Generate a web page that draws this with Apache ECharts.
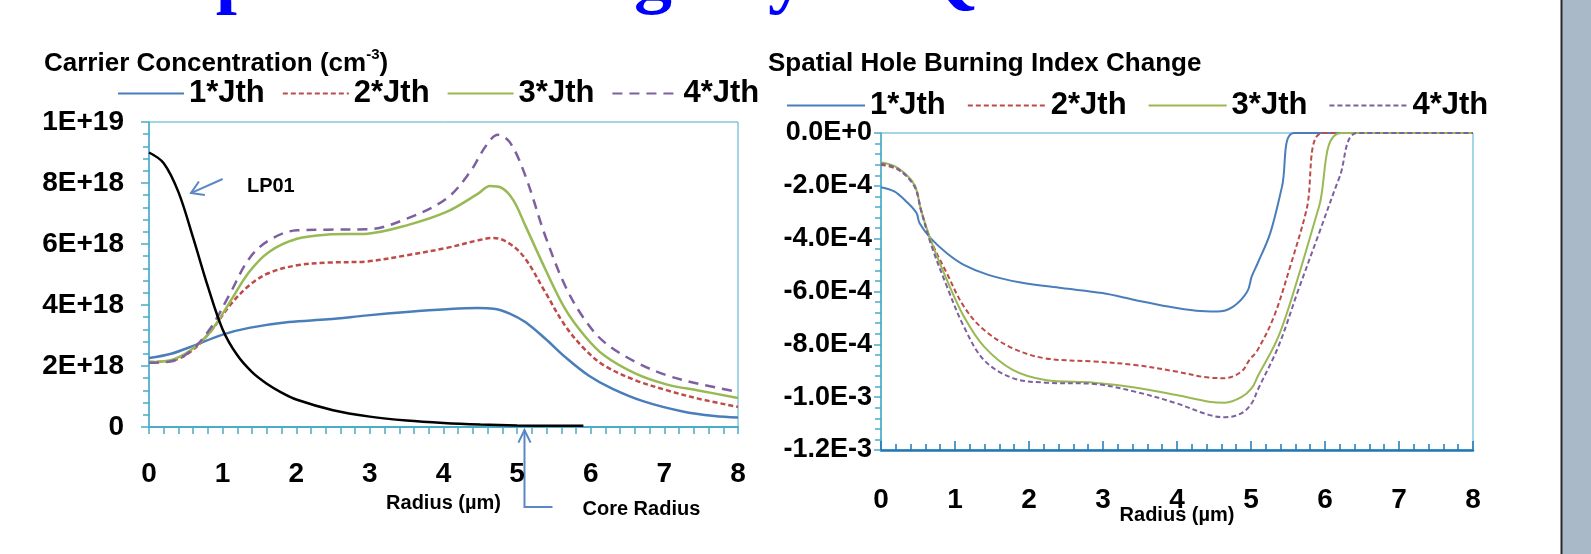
<!DOCTYPE html>
<html><head><meta charset="utf-8">
<script src="https://cdn.jsdelivr.net/npm/echarts@6/dist/echarts.min.js"></script>
<style>html,body{margin:0;padding:0;background:#fff}#c{width:1591px;height:554px}</style>
</head><body><div id="c"></div>
<script>
// ---------- data ----------
const seriesNames = ['1*Jth', '2*Jth', '3*Jth', '4*Jth'];
const radiusTickLabels = ['0', '1', '2', '3', '4', '5', '6', '7', '8'];
// left y axis in units of 1E18 cm^-3
const carrierTickLabels = ['0', '2E+18', '4E+18', '6E+18', '8E+18', '1E+19'];
// right y axis in units of 1E-4
const shbTickLabels = ['-1.2E-3', '-1.0E-3', '-8.0E-4', '-6.0E-4', '-4.0E-4', '-2.0E-4', '0.0E+0'];

// Carrier concentration [radius (µm), value (1E18 cm^-3)]
const carrier1Jth = [[0,2.26],[0.3,2.4],[0.6,2.66],[1.0,3.03],[1.36,3.25],[1.9,3.44],[2.43,3.53],[2.97,3.66],[3.5,3.77],[4.04,3.86],[4.47,3.9],[4.68,3.88],[4.9,3.72],[5.11,3.44],[5.38,2.9],[5.65,2.3],[5.97,1.69],[6.29,1.26],[6.72,0.84],[7.25,0.51],[7.68,0.36],[8.0,0.31]];
const carrier2Jth = [[0,2.13],[0.29,2.16],[0.56,2.46],[0.83,3.11],[1.1,3.99],[1.36,4.64],[1.63,5.05],[2.01,5.3],[2.43,5.39],[2.97,5.43],[3.5,5.63],[4.04,5.87],[4.47,6.12],[4.68,6.2],[4.9,6.01],[5.11,5.52],[5.38,4.43],[5.65,3.33],[5.91,2.57],[6.18,2.02],[6.61,1.53],[7.04,1.2],[7.46,0.93],[8.0,0.66]];
const carrier3Jth = [[0,2.13],[0.29,2.19],[0.56,2.51],[0.83,3.11],[1.1,4.1],[1.36,5.08],[1.63,5.74],[2.01,6.17],[2.43,6.31],[2.97,6.34],[3.5,6.61],[4.04,7.05],[4.47,7.65],[4.63,7.9],[4.79,7.84],[4.95,7.43],[5.11,6.61],[5.38,5.19],[5.65,3.88],[5.91,3.01],[6.18,2.35],[6.61,1.75],[7.04,1.39],[7.46,1.2],[8.0,0.95]];
const carrier4Jth = [[0,2.11],[0.29,2.15],[0.56,2.48],[0.83,3.22],[1.1,4.37],[1.36,5.52],[1.63,6.12],[2.01,6.45],[2.43,6.47],[2.97,6.48],[3.5,6.83],[4.04,7.49],[4.36,8.36],[4.58,9.23],[4.74,9.58],[4.9,9.34],[5.11,8.25],[5.38,6.28],[5.65,4.64],[5.91,3.55],[6.18,2.79],[6.61,2.13],[7.04,1.69],[7.46,1.42],[8.0,1.15]];
const lp01Mode = [[0,9.0],[0.2,8.65],[0.4,7.7],[0.6,6.2],[0.8,4.6],[1.0,3.2],[1.2,2.35],[1.4,1.8],[1.6,1.42],[1.8,1.13],[2.0,0.9],[2.5,0.55],[3.0,0.34],[3.5,0.21],[4.0,0.13],[4.5,0.08],[5.0,0.05],[5.5,0.04],[5.9,0.04]];

// Spatial hole burning index change [radius (µm), value (1E-4)]
const shb1Jth = [[0,-2.05],[0.18,-2.21],[0.34,-2.59],[0.48,-3.03],[0.52,-3.41],[0.67,-3.98],[0.89,-4.55],[1.12,-4.99],[1.45,-5.37],[1.89,-5.66],[2.44,-5.87],[2.99,-6.06],[3.43,-6.32],[3.88,-6.57],[4.26,-6.73],[4.54,-6.76],[4.76,-6.57],[4.95,-6.0],[5.01,-5.43],[5.09,-4.93],[5.26,-3.79],[5.42,-2.02],[5.58,0],[8,0]];
const shb2Jth = [[0,-1.2],[0.23,-1.39],[0.45,-1.96],[0.54,-2.91],[0.67,-4.04],[0.89,-5.31],[1.12,-6.57],[1.39,-7.45],[1.78,-8.15],[2.22,-8.53],[2.88,-8.65],[3.43,-8.78],[3.99,-9.03],[4.43,-9.26],[4.65,-9.28],[4.87,-9.03],[4.98,-8.59],[5.09,-8.21],[5.31,-6.95],[5.53,-5.05],[5.75,-2.91],[5.97,0],[8,0]];
const shb3Jth = [[0,-1.11],[0.23,-1.33],[0.45,-1.96],[0.54,-2.91],[0.67,-4.04],[0.89,-5.56],[1.12,-6.95],[1.39,-8.08],[1.78,-8.97],[2.22,-9.35],[2.88,-9.45],[3.43,-9.63],[3.99,-9.92],[4.43,-10.17],[4.65,-10.21],[4.87,-10.0],[5.01,-9.66],[5.09,-9.22],[5.37,-7.71],[5.64,-5.43],[5.92,-2.78],[6.22,0],[8,0]];
const shb4Jth = [[0,-1.16],[0.23,-1.36],[0.45,-2.02],[0.54,-2.91],[0.67,-4.17],[0.89,-5.81],[1.12,-7.33],[1.39,-8.59],[1.78,-9.28],[2.22,-9.45],[2.88,-9.5],[3.43,-9.79],[3.99,-10.23],[4.43,-10.67],[4.65,-10.76],[4.87,-10.61],[5.01,-10.23],[5.09,-9.73],[5.37,-8.08],[5.64,-5.94],[5.92,-3.79],[6.2,-1.64],[6.44,0],[8,0]];

// annotation anchors (data coords of left chart)
const lp01LabelAt = [1.33, 7.9];
const lp01ArrowFrom = [1.0, 8.13];
const lp01ArrowTo = [0.57, 7.67];
const coreRadiusAt = [5.1, 0];

// ---------- chart ----------
const FONT = "'Liberation Sans', Arial, sans-serif";
const C = ['#4a7ebb', '#be4b48', '#98b954', '#7d60a0'];
const AXC = '#4bacc6';
const chart = echarts.init(document.getElementById('c'));

function line(name, data, g, color, width, dash) {
  return { name, type: 'line', xAxisIndex: g, yAxisIndex: g, data, symbol: 'none', smooth: 0.35,
    lineStyle: { color, width, type: dash || 'solid' }, itemStyle: { color }, z: 3 };
}
const lbl = (size) => ({ fontSize: size, fontWeight: 'bold', fontFamily: FONT, color: '#000' });
const hideSym = { color: 'rgba(0,0,0,0)', borderColor: 'rgba(0,0,0,0)', borderWidth: 0 };

const option = {
  animation: false,
  backgroundColor: '#fff',
  title: [
    { text: '{a|Carrier Concentration (cm}{s|-3}{a|)}', left: 39, top: 42,
      textStyle: { rich: { a: Object.assign(lbl(26), { lineHeight: 30, verticalAlign: 'bottom' }),
                           s: Object.assign(lbl(15), { lineHeight: 30, verticalAlign: 'top' }) } } },
    { text: 'Spatial Hole Burning Index Change', left: 763, top: 46, textStyle: lbl(26) }
  ],
  legend: [
    { left: 112, top: 73, itemWidth: 66, itemHeight: 14, itemGap: 17, textStyle: lbl(31), itemStyle: hideSym,
      data: [{ name: '1*Jth' }, { name: '2*Jth' }, { name: '3*Jth' }, { name: '4*Jth' }], selectedMode: false },
    { left: 781, top: 85, itemWidth: 78, itemHeight: 14, itemGap: 21, textStyle: lbl(31), itemStyle: hideSym,
      data: [{ name: '1*Jth', lineStyle: { width: 2 } }, { name: '2*Jth', lineStyle: { width: 2, type: [5, 3] } },
             { name: '3*Jth', lineStyle: { width: 2 } }, { name: '4*Jth', lineStyle: { width: 2, type: [5, 3] } }],
      selectedMode: false }
  ],
  grid: [
    { left: 149, top: 122, width: 589, height: 305, show: true, borderColor: AXC, borderWidth: 1, outerBoundsMode: 'none' },
    { left: 881, top: 133, width: 592, height: 317, show: true, borderColor: AXC, borderWidth: 1, outerBoundsMode: 'none' }
  ],
  xAxis: [
    { gridIndex: 0, type: 'value', min: 0, max: 8, interval: 1,
      axisLine: { onZero: false, lineStyle: { color: AXC, width: 2 } },
      axisTick: { show: true, length: 7, lineStyle: { color: AXC, width: 1.5 } },
      minorTick: { show: true, splitNumber: 5, length: 7, lineStyle: { color: AXC, width: 1.5 } },
      splitLine: { show: false }, minorSplitLine: { show: false },
      axisLabel: Object.assign(lbl(28), { margin: 33, formatter: v => radiusTickLabels[Math.round(v)] }),
      name: 'Radius (µm)', nameLocation: 'middle', nameGap: 66, nameMoveOverlap: false, nameTextStyle: lbl(20) },
    { gridIndex: 1, type: 'value', min: 0, max: 8, interval: 1,
      axisLine: { onZero: false, lineStyle: { color: '#1f78b4', width: 2.5 } },
      axisTick: { show: true, inside: true, length: 9, lineStyle: { color: '#1f78b4', width: 1.5 } },
      minorTick: { show: true, splitNumber: 5, length: 6, lineStyle: { color: '#1f78b4', width: 1.5 } },
      splitLine: { show: false }, minorSplitLine: { show: false },
      axisLabel: Object.assign(lbl(28), { margin: 36, formatter: v => radiusTickLabels[Math.round(v)] }),
      name: 'Radius (µm)', nameLocation: 'middle', nameGap: 55, nameMoveOverlap: false, nameTextStyle: lbl(20) }
  ],
  yAxis: [
    { gridIndex: 0, type: 'value', min: 0, max: 10, interval: 2,
      axisLine: { show: true, lineStyle: { color: AXC, width: 1.5 } },
      axisTick: { show: true, length: 8, lineStyle: { color: AXC, width: 1.5 } },
      minorTick: { show: true, splitNumber: 5, length: 6, lineStyle: { color: AXC, width: 1.5 } },
      splitLine: { show: false }, minorSplitLine: { show: false },
      axisLabel: Object.assign(lbl(28), { margin: 25, formatter: v => carrierTickLabels[Math.round(v / 2)] }) },
    { gridIndex: 1, type: 'value', min: -12, max: 0, interval: 2,
      axisLine: { show: true, lineStyle: { color: AXC, width: 1.5 } },
      axisTick: { show: true, length: 7, lineStyle: { color: AXC, width: 1.5 } },
      minorTick: { show: true, splitNumber: 5, length: 6, lineStyle: { color: AXC, width: 1.5 } },
      splitLine: { show: false }, minorSplitLine: { show: false },
      axisLabel: Object.assign(lbl(27), { margin: 9, formatter: v => shbTickLabels[Math.round((v + 12) / 2)] }) }
  ],
  series: [
    line(seriesNames[0], carrier1Jth, 0, C[0], 2.5),
    line(seriesNames[1], carrier2Jth, 0, C[1], 2.5, [5, 3]),
    line(seriesNames[2], carrier3Jth, 0, C[2], 2.5),
    line(seriesNames[3], carrier4Jth, 0, C[3], 2.5, [10, 7]),
    line('LP01', lp01Mode, 0, '#000', 2.5),
    line(seriesNames[0], shb1Jth, 1, C[0], 2),
    line(seriesNames[1], shb2Jth, 1, C[1], 2, [5, 3]),
    line(seriesNames[2], shb3Jth, 1, C[2], 2),
    line(seriesNames[3], shb4Jth, 1, C[3], 2, [5, 3])
  ]
};
chart.setOption(option);

// ---------- annotations ----------
const px = (pt) => chart.convertToPixel({ gridIndex: 0 }, pt);
function head(tip, from, len, ang) {
  const dx = from[0] - tip[0], dy = from[1] - tip[1], L = Math.hypot(dx, dy);
  const ux = dx / L, uy = dy / L, c = Math.cos(ang), s = Math.sin(ang);
  return [[tip[0] + len * (ux * c - uy * s), tip[1] + len * (ux * s + uy * c)], tip,
          [tip[0] + len * (ux * c + uy * s), tip[1] + len * (-ux * s + uy * c)]];
}
const ARC = '#5b87c5';
const aFrom = px(lp01ArrowFrom), aTo = px(lp01ArrowTo), lpAt = px(lp01LabelAt);
const cr = px(coreRadiusAt);
const crTip = [cr[0], cr[1] + 3], crBot = [cr[0], cr[1] + 80], crEnd = [cr[0] + 28, cr[1] + 80];
const letter = (t, x) => ({ type: 'text', x, y: -21, silent: true,
  style: { text: t, fill: '#0000ff', font: "bold 76px 'Liberation Serif', 'Times New Roman', serif", align: 'center', verticalAlign: 'middle' } });

chart.setOption({
  graphic: [
    { type: 'polyline', shape: { points: [aFrom, aTo] }, style: { stroke: ARC, lineWidth: 2, fill: null } },
    { type: 'polyline', shape: { points: head(aTo, aFrom, 14, 0.55) }, style: { stroke: ARC, lineWidth: 2, fill: null } },
    { type: 'text', x: lpAt[0], y: lpAt[1], style: { text: 'LP01', fill: '#000', font: "bold 20px 'Liberation Sans', Arial, sans-serif", align: 'left', verticalAlign: 'middle' } },
    { type: 'polyline', shape: { points: [crTip, crBot, crEnd] }, style: { stroke: ARC, lineWidth: 2, fill: null } },
    { type: 'polyline', shape: { points: head(crTip, crBot, 14, 0.45) }, style: { stroke: ARC, lineWidth: 2, fill: null } },
    { type: 'text', x: cr[0] + 58, y: cr[1] + 82, style: { text: 'Core Radius', fill: '#000', font: "bold 20px 'Liberation Sans', Arial, sans-serif", align: 'left', verticalAlign: 'middle' } },
    letter('p', 237), letter('g', 653), letter('y', 787), letter('Q', 948),
    { type: 'rect', shape: { x: 1562, y: 0, width: 29, height: 554 }, style: { fill: '#aab9c8' } },
    { type: 'line', shape: { x1: 1561.5, y1: 0, x2: 1561.5, y2: 554 }, style: { stroke: '#2a2a2a', lineWidth: 2 } }
  ]
});
</script></body></html>
